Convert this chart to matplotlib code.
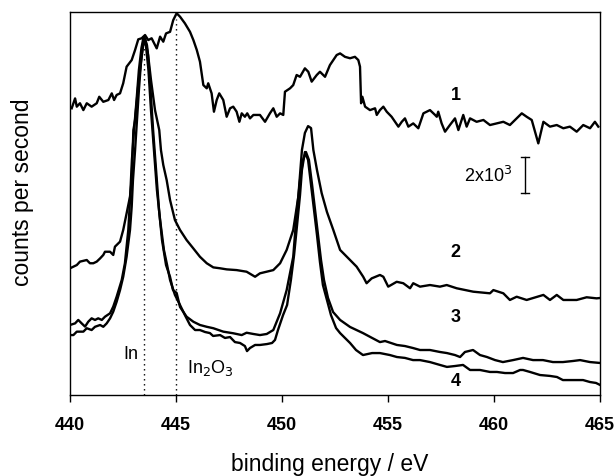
import matplotlib
matplotlib.use("Agg")
import matplotlib.pyplot as plt

plt.rcParams['font.family'] = ['Liberation Sans', 'DejaVu Sans']

# ---------------- data (binding energy / eV, intensity / 10^3 cps, offset stacked) -------------
e1 = [440.08, 440.24, 440.32, 440.47, 440.63, 440.79, 441.02, 441.26, 441.38, 441.57, 441.81, 441.97,
      442.08, 442.20, 442.36, 442.51, 442.67, 442.91, 443.07, 443.22, 443.38, 443.54, 443.69, 443.85,
      444.09, 444.25, 444.40, 444.53, 444.72, 444.87, 445.03, 445.19, 445.42, 445.66, 445.82, 445.98,
      446.13, 446.29, 446.45, 446.52, 446.68, 446.79, 446.92, 447.04, 447.23, 447.39, 447.55, 447.70,
      447.86, 447.99, 448.10, 448.25, 448.36, 448.49, 448.65, 448.96, 449.20, 449.43, 449.59, 449.75,
      449.91, 450.06, 450.14, 450.38, 450.53, 450.69, 450.85, 451.08, 451.24, 451.40, 451.64, 451.79,
      452.03, 452.26, 452.58, 452.74, 452.97, 453.21, 453.44, 453.60, 453.68, 453.73, 453.79, 453.92,
      454.15, 454.39, 454.47, 454.62, 454.78, 454.94, 455.17, 455.49, 455.65, 455.80, 455.96, 456.19,
      456.43, 456.67, 456.98, 457.22, 457.30, 457.37, 457.53, 457.69, 457.92, 458.16, 458.32, 458.55,
      458.71, 458.87, 459.18, 459.50, 459.81, 460.13, 460.44, 460.75, 461.07, 461.31, 461.54, 461.78,
      462.09, 462.33, 462.64, 462.96, 463.27, 463.58, 463.90, 464.21, 464.53, 464.76, 464.92]
i1 = [15.93, 16.48, 16.02, 16.21, 15.83, 16.21, 16.02, 16.21, 16.57, 16.29, 16.39, 16.76,
      16.39, 16.67, 16.76, 17.32, 18.24, 18.61, 19.17, 19.76, 19.82, 20.00, 19.72, 19.82,
      19.26, 19.91, 19.63, 20.09, 20.18, 20.83, 21.21, 21.02, 20.65, 20.18, 19.72, 19.17,
      18.52, 17.22, 17.04, 17.32, 16.76, 15.74, 16.39, 16.76, 16.39, 15.46, 15.93, 16.02,
      15.74, 15.18, 15.65, 15.46, 15.65, 15.37, 15.56, 15.56, 15.18, 15.65, 15.93, 15.46,
      15.65, 15.56, 16.85, 17.04, 17.22, 17.78, 17.68, 18.15, 17.96, 17.41, 17.78, 17.96,
      17.68, 18.33, 18.89, 18.98, 18.79, 18.71, 18.79, 18.61, 18.24, 16.21, 16.57, 16.02,
      15.83, 15.93, 15.56, 15.83, 16.02, 15.74, 15.46, 14.91, 15.18, 15.37, 14.91, 15.09,
      14.82, 15.65, 15.83, 15.56, 15.46, 15.74, 15.09, 14.63, 15.00, 15.37, 14.72, 15.56,
      14.91, 15.37, 15.18, 15.28, 15.00, 15.09, 15.18, 15.00, 15.37, 15.65, 15.46, 15.28,
      13.98, 15.18, 14.91, 15.00, 14.82, 14.91, 14.63, 15.00, 14.82, 15.18, 14.91]

e2 = [440.00, 440.32, 440.47, 440.79, 440.94, 441.10, 441.26, 441.42, 441.57, 441.65, 441.89, 442.04,
      442.12, 442.36, 442.51, 442.67, 442.83, 442.91, 442.99, 443.07, 443.21, 443.40, 443.51, 443.63,
      443.82, 444.01, 444.21, 444.29, 444.40, 444.56, 444.72, 444.95, 445.19, 445.50, 445.80, 446.13,
      446.45, 446.76, 447.08, 447.39, 447.86, 448.33, 448.73, 448.96, 449.59, 449.91, 450.22, 450.53,
      450.77, 450.94, 451.08, 451.23, 451.37, 451.48, 451.65, 451.87, 452.12, 452.42, 452.74, 453.21,
      453.52, 453.83, 453.99, 454.23, 454.62, 454.78, 455.01, 455.41, 455.72, 456.04, 456.19, 456.51,
      456.98, 457.45, 457.77, 458.24, 459.02, 459.81, 459.97, 460.44, 460.75, 461.07, 461.54, 462.33,
      462.64, 462.96, 463.27, 463.90, 464.37, 464.84, 465.00]
i2 = [7.04, 7.22, 7.41, 7.50, 7.32, 7.32, 7.41, 7.59, 7.78, 7.96, 7.96, 7.78,
      8.24, 8.52, 9.17, 10.09, 11.02, 11.94, 14.72, 15.28, 17.11, 19.00, 19.89, 19.44,
      17.50, 15.83, 14.72, 13.61, 12.78, 11.94, 10.83, 9.72, 9.17, 8.61, 8.17, 7.68,
      7.32, 7.09, 7.04, 6.98, 6.94, 6.85, 6.57, 6.76, 6.94, 7.32, 8.06, 9.17,
      11.02, 13.61, 14.56, 14.94, 14.83, 13.61, 12.50, 11.22, 10.17, 9.17, 8.06, 7.50,
      7.13, 6.57, 6.21, 6.48, 6.67, 6.57, 6.02, 6.29, 6.21, 5.93, 6.21, 6.02,
      6.11, 6.02, 6.11, 5.93, 5.74, 5.65, 5.83, 5.65, 5.28, 5.46, 5.28, 5.56,
      5.28, 5.56, 5.28, 5.28, 5.43, 5.37, 5.39]

e3 = [440.00, 440.24, 440.39, 440.55, 440.71, 440.86, 441.02, 441.18, 441.33, 441.50, 441.65, 441.89,
      442.04, 442.20, 442.44, 442.59, 442.75, 442.83, 442.92, 443.02, 443.14, 443.25, 443.37, 443.47,
      443.56, 443.68, 443.77, 443.92, 444.06, 444.20, 444.34, 444.53, 444.72, 444.86, 445.03, 445.19,
      445.50, 445.82, 446.13, 446.45, 446.76, 447.23, 447.70, 448.10, 448.33, 448.65, 448.96, 449.28,
      449.59, 449.91, 450.22, 450.53, 450.69, 450.85, 450.99, 451.13, 451.27, 451.42, 451.56, 451.70,
      451.84, 451.98, 452.17, 452.41, 452.74, 453.21, 453.82, 454.25, 454.62, 454.86, 455.42, 455.80,
      456.18, 456.51, 456.98, 457.45, 457.78, 458.16, 458.40, 458.63, 459.01, 459.34, 459.67, 460.05,
      460.42, 460.90, 461.37, 461.84, 462.31, 462.78, 463.25, 463.73, 464.06, 464.53, 465.00]
i3 = [3.89, 3.98, 4.17, 3.98, 3.80, 4.07, 4.26, 4.17, 4.26, 4.17, 4.35, 4.54,
      4.91, 5.46, 6.39, 7.32, 9.17, 10.83, 13.06, 14.72, 16.39, 18.06, 19.28, 19.89,
      19.72, 18.89, 17.50, 14.72, 12.50, 10.28, 8.61, 7.22, 6.56, 5.83, 5.67, 4.89,
      4.35, 4.07, 3.89, 3.79, 3.71, 3.52, 3.43, 3.33, 3.46, 3.39, 3.33, 3.39,
      3.61, 4.54, 5.83, 7.68, 10.09, 11.94, 13.06, 13.50, 13.06, 11.67, 10.28, 8.89,
      7.50, 6.39, 5.39, 4.61, 4.17, 3.78, 3.44, 3.17, 2.94, 3.00, 2.78, 2.72,
      2.61, 2.50, 2.50, 2.39, 2.33, 2.22, 2.11, 2.39, 2.50, 2.22, 2.11, 1.94,
      1.83, 1.94, 2.06, 1.94, 1.94, 1.83, 1.83, 1.89, 1.94, 1.83, 1.78]

e4 = [440.00, 440.16, 440.32, 440.63, 440.79, 441.02, 441.18, 441.42, 441.57, 441.73, 441.89, 442.04,
      442.20, 442.36, 442.51, 442.67, 442.83, 442.91, 442.97, 443.07, 443.16, 443.25, 443.35, 443.47,
      443.58, 443.70, 443.82, 443.96, 444.10, 444.25, 444.43, 444.58, 444.72, 444.95, 445.19, 445.42,
      445.66, 445.90, 446.13, 446.37, 446.60, 446.75, 447.08, 447.31, 447.55, 447.78, 448.02, 448.25,
      448.35, 448.49, 448.73, 448.96, 449.29, 449.53, 449.67, 449.81, 450.05, 450.24, 450.42, 450.57,
      450.71, 450.85, 450.94, 451.08, 451.23, 451.37, 451.51, 451.65, 451.79, 451.93, 452.12, 452.31,
      452.55, 452.74, 452.97, 453.21, 453.49, 453.82, 454.25, 454.62, 455.09, 455.42, 455.80, 456.18,
      456.51, 456.98, 457.45, 457.78, 458.16, 458.54, 458.87, 459.34, 459.81, 460.14, 460.52, 460.90,
      461.23, 461.37, 461.70, 462.17, 462.64, 462.97, 463.25, 463.73, 464.20, 464.53, 464.81, 465.00]
i4 = [3.33, 3.33, 3.52, 3.52, 3.71, 3.61, 3.79, 3.89, 3.79, 3.98, 4.26, 4.63,
      5.18, 5.83, 6.57, 7.68, 9.17, 10.46, 11.94, 13.61, 15.28, 16.94, 18.50, 19.78,
      19.44, 18.06, 15.83, 13.61, 11.39, 9.72, 8.06, 7.22, 6.39, 5.56, 5.00, 4.44,
      3.89, 3.61, 3.61, 3.50, 3.44, 3.28, 3.33, 3.17, 3.22, 2.94, 2.89, 2.72,
      2.44, 2.61, 2.78, 2.78, 2.83, 2.89, 3.06, 3.61, 4.44, 5.00, 6.39, 7.78,
      9.44, 11.11, 12.50, 13.50, 13.06, 11.67, 10.28, 8.89, 7.39, 6.11, 5.28, 4.44,
      3.72, 3.44, 3.17, 2.89, 2.50, 2.22, 2.33, 2.33, 2.22, 2.11, 2.06, 1.94,
      1.94, 1.83, 1.67, 1.56, 1.61, 1.67, 1.39, 1.39, 1.28, 1.28, 1.22, 1.22,
      1.39, 1.39, 1.28, 1.11, 1.06, 1.00, 0.83, 0.83, 0.83, 0.72, 0.67, 0.56]

curve_labels = ['1', '2', '3', '4']
label_pos = [(458.2, 16.65), (458.2, 7.9), (458.2, 4.3), (458.2, 0.75)]
ref_lines = [443.5, 445.0]       # In, In2O3 reference energies
ref_tops = [19.8, 20.9]
xticks = [440, 445, 450, 455, 460, 465]
scale_x, scale_lo, scale_len = 461.46, 11.2, 2.0   # 2x10^3 cps scale bar

# ---------------- figure ----------------
fig = plt.figure(figsize=(6.15, 4.76), dpi=100)
ax = fig.add_axes([70/615, 1-395/476, 530/615, 383/476])

for e, i in [(e1, i1), (e2, i2), (e3, i3), (e4, i4)]:
    ax.plot(e, i, color='black', lw=1.7, solid_joinstyle='round')

for x, top in zip(ref_lines, ref_tops):
    ax.plot([x, x], [0, top], color='black', lw=1.0, linestyle=(0, (1, 2.6)))

for lab, (x, y) in zip(curve_labels, label_pos):
    ax.text(x, y, lab, ha='center', va='center', fontsize=13, fontweight='bold')

ax.text(443.21, 2.0, 'In', ha='right', va='baseline', fontsize=13)
ax.text(445.5, 1.25, 'In$_2$O$_3$', ha='left', va='baseline', fontsize=13)

# scale bar
ax.plot([scale_x, scale_x], [scale_lo, scale_lo + scale_len], color='black', lw=1.0)
for yy in (scale_lo, scale_lo + scale_len):
    ax.plot([scale_x - 0.18, scale_x + 0.18], [yy, yy], color='black', lw=1.0)
ax.text(460.85, 12.15, '2x10$^3$', ha='right', va='center', fontsize=13)

ax.set_xlim(440, 465)
ax.set_ylim(0, 21.28)
ax.set_xticks(xticks)
ax.set_xticklabels([str(t) for t in xticks], fontsize=13, fontweight='bold')
ax.set_yticks([])
ax.tick_params(axis='x', direction='out', length=5, width=1, pad=11)
for s in ax.spines.values():
    s.set_linewidth(1.0)

ax.set_xlabel('binding energy / eV', fontsize=16.5)
ax.xaxis.set_label_coords(0.49, -0.152)
ax.set_ylabel('counts per second', fontsize=16.5)
ax.yaxis.set_label_coords(-0.068, 0.53)

fig.savefig('out.png', dpi=100)
